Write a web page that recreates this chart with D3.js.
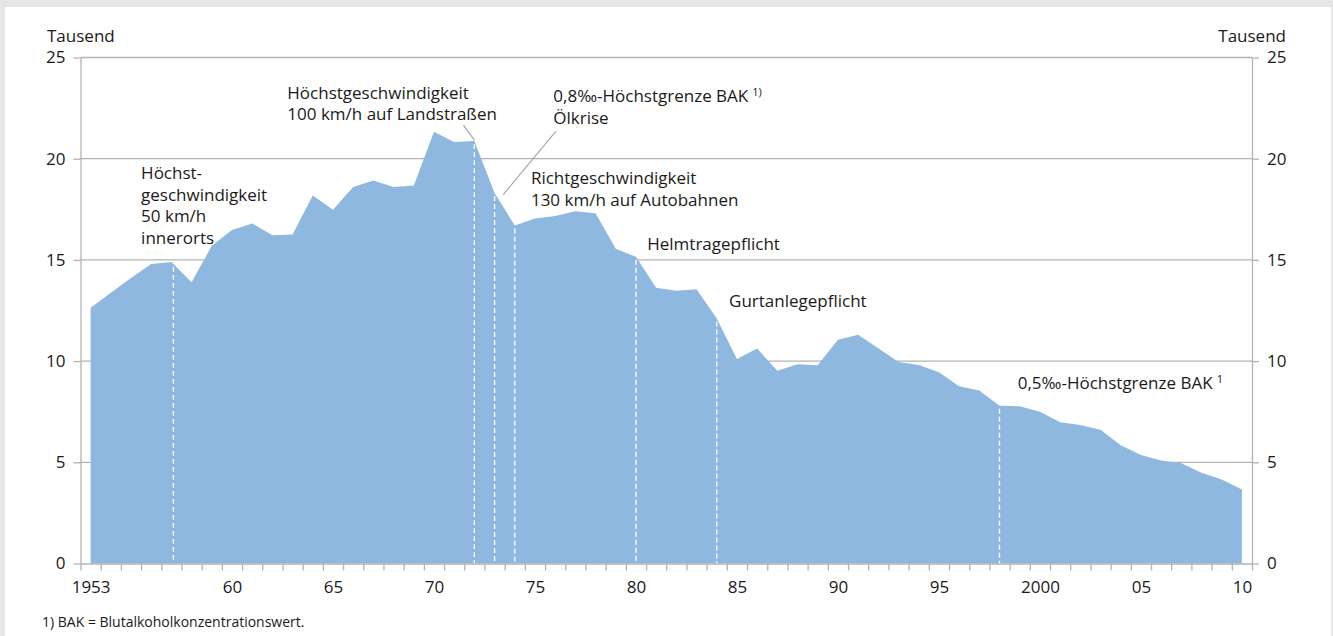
<!DOCTYPE html>
<html>
<head>
<meta charset="utf-8">
<script src="https://cdn.jsdelivr.net/npm/d3@7"></script>
<style>
  body { margin: 0; background: #e6e6e6; }
  svg { display: block; }
  text { font-family: "Open Sans", sans-serif; fill: #1a1a1a; }
</style>
</head>
<body>
<div id="chart"></div>
<script>
"use strict";

// Verkehrstote, Tausend
const years = [1953, 1954, 1955, 1956, 1957, 1958, 1959, 1960, 1961, 1962,
  1963, 1964, 1965, 1966, 1967, 1968, 1969, 1970, 1971, 1972,
  1973, 1974, 1975, 1976, 1977, 1978, 1979, 1980, 1981, 1982,
  1983, 1984, 1985, 1986, 1987, 1988, 1989, 1990, 1991, 1992,
  1993, 1994, 1995, 1996, 1997, 1998, 1999, 2000, 2001, 2002,
  2003, 2004, 2005, 2006, 2007, 2008, 2009, 2010];
const deaths = [12.63, 13.38, 14.10, 14.80, 14.90, 13.90, 15.70, 16.48, 16.80, 16.22,
  16.26, 18.18, 17.48, 18.60, 18.92, 18.60, 18.68, 21.33, 20.83, 20.87,
  18.30, 16.70, 17.05, 17.17, 17.40, 17.30, 15.55, 15.15, 13.63, 13.47,
  13.55, 12.10, 10.10, 10.62, 9.52, 9.85, 9.80, 11.05, 11.30, 10.63,
  9.95, 9.81, 9.45, 8.76, 8.55, 7.79, 7.77, 7.50, 6.98, 6.84,
  6.61, 5.84, 5.36, 5.09, 4.95, 4.48, 4.15, 3.65];

const yTicks = [0, 5, 10, 15, 20, 25];
const xLabelYears = [1953, 1960, 1965, 1970, 1975, 1980, 1985, 1990, 1995, 2000, 2005, 2010];
const xLabels = ["1953", "60", "65", "70", "75", "80", "85", "90", "95", "2000", "05", "10"];

// Ereignisse (Jahr der gestrichelten Linie)
const eventYears = [1957.1, 1972, 1973, 1974, 1980, 1984, 1998];

// Beschriftungen: Jahr / Wert der ersten Grundlinie
const noteTexts = [
  ["Höchst-", "geschwindigkeit", "50 km/h", "innerorts"],
  ["Höchstgeschwindigkeit", "100 km/h auf Landstraßen"],
  ["0,8‰-Höchstgrenze BAK", "Ölkrise"],
  ["Richtgeschwindigkeit", "130 km/h auf Autobahnen"],
  ["Helmtragepflicht"],
  ["Gurtanlegepflicht"],
  ["0,5‰-Höchstgrenze BAK"]
];
const noteYears = [1955.5, 1962.74, 1975.91, 1974.8, 1980.56, 1984.61, 1998.9];
const noteValues = [18.99, 22.97, 22.80, 18.74, 15.48, 12.68, 8.60];
const noteSup = ["", "", "1)", "", "", "", "1"];

// Hinweislinien [jahr1, wert1, jahr2, wert2]
const leaders = [
  [1971.46, 21.66, 1972.0, 20.92],
  [1976.04, 21.36, 1973.43, 18.23]
];

const width = 1333, height = 636;
const svg = d3.select("#chart").append("svg")
  .attr("width", width)
  .attr("height", height);

svg.append("rect").attr("width", width).attr("height", height).attr("fill", "#e6e6e6");
svg.append("rect").attr("x", 5).attr("y", 7).attr("width", 1326).attr("height", 629).attr("fill", "#fff");

const x = d3.scaleLinear().domain([1952.5, 2010.5]).range([80.5, 1252]);
const y = d3.scaleLinear().domain([0, 25]).range([563.5, 57.5]);

const gridColor = "#b3b3b3";

// Gitterlinien
svg.append("g")
  .selectAll("line")
  .data(yTicks.filter(d => d > 0))
  .join("line")
  .attr("x1", x(1952.5))
  .attr("x2", x(2010.5))
  .attr("y1", d => y(d))
  .attr("y2", d => y(d))
  .attr("stroke", gridColor)
  .attr("stroke-width", 1.3);

// Fläche
const series = years.map((yr, i) => ({ year: yr, value: deaths[i] }));
const area = d3.area()
  .x(d => x(d.year))
  .y0(y(0))
  .y1(d => y(d.value));
svg.append("path")
  .datum(series)
  .attr("d", area)
  .attr("fill", "#8fb8e0");

// gestrichelte Ereignislinien
function valueAt(t) {
  const i = Math.min(Math.max(d3.bisectRight(years, t) - 1, 0), years.length - 2);
  const f = (t - years[i]) / (years[i + 1] - years[i]);
  return deaths[i] + f * (deaths[i + 1] - deaths[i]);
}
svg.append("g")
  .selectAll("line")
  .data(eventYears)
  .join("line")
  .attr("x1", d => x(d))
  .attr("x2", d => x(d))
  .attr("y1", d => y(valueAt(d)) + 3)
  .attr("y2", y(0))
  .attr("stroke", "#fff")
  .attr("stroke-width", 1.3)
  .attr("stroke-dasharray", "5,3");

// Achsen
function styleAxis(g) {
  g.selectAll("path.domain").attr("stroke", gridColor).attr("stroke-width", 1.3);
  g.selectAll(".tick line").attr("stroke", gridColor).attr("stroke-width", 1.3);
  g.selectAll("text").attr("font-size", 17).attr("fill", "#1a1a1a")
    .style("font-family", "'Open Sans', sans-serif");
}

const yLeft = svg.append("g")
  .attr("transform", `translate(${x(1952.5)},0)`)
  .call(d3.axisLeft(y).tickValues(yTicks).tickSize(7).tickSizeOuter(0).tickPadding(8));
styleAxis(yLeft);

const yRight = svg.append("g")
  .attr("transform", `translate(${x(2010.5)},0)`)
  .call(d3.axisRight(y).tickValues(yTicks).tickSize(7).tickSizeOuter(0).tickPadding(8));
styleAxis(yRight);

// x-Achse: Striche an Jahresgrenzen
const boundaries = years.map(yr => yr - 0.5).concat([2010.5]);
const xTicks = svg.append("g")
  .attr("transform", `translate(0,${y(0)})`)
  .call(d3.axisBottom(x).tickValues(boundaries).tickSize(7).tickSizeOuter(0).tickFormat(""));
styleAxis(xTicks);

const xLab = svg.append("g")
  .attr("transform", `translate(0,${y(0)})`)
  .call(d3.axisBottom(x).tickValues(xLabelYears).tickSize(0).tickPadding(17)
    .tickFormat((d, i) => xLabels[i]));
styleAxis(xLab);
xLab.select("path.domain").remove();

// Einheiten
svg.append("text").attr("x", 47).attr("y", 42).attr("font-size", 17).text("Tausend");
svg.append("text").attr("x", 1286).attr("y", 42).attr("font-size", 17)
  .attr("text-anchor", "end").text("Tausend");

// Hinweislinien
svg.append("g")
  .selectAll("line")
  .data(leaders)
  .join("line")
  .attr("x1", d => x(d[0]))
  .attr("y1", d => y(d[1]))
  .attr("x2", d => x(d[2]))
  .attr("y2", d => y(d[3]))
  .attr("stroke", "#a6a6a6")
  .attr("stroke-width", 1.2);

// Beschriftungen
noteTexts.forEach((lines, n) => {
  const t = svg.append("text")
    .attr("x", x(noteYears[n]))
    .attr("y", y(noteValues[n]))
    .attr("font-size", 17);
  const lineGap = n === 2 ? 22 : 21.5;
  let shift = 0;
  lines.forEach((line, k) => {
    t.append("tspan")
      .attr("x", x(noteYears[n]))
      .attr("dy", k === 0 ? 0 : lineGap + shift)
      .text(line);
    shift = 0;
    if (k === 0 && noteSup[n]) {
      t.append("tspan").attr("dx", 4).attr("dy", -6).attr("font-size", 11).text(noteSup[n]);
      shift = 6;
    }
  });
});

// Fussnote
svg.append("text").attr("x", 42).attr("y", 627).attr("font-size", 14)
  .text("1) BAK = Blutalkoholkonzentrationswert.");
</script>
</body>
</html>
